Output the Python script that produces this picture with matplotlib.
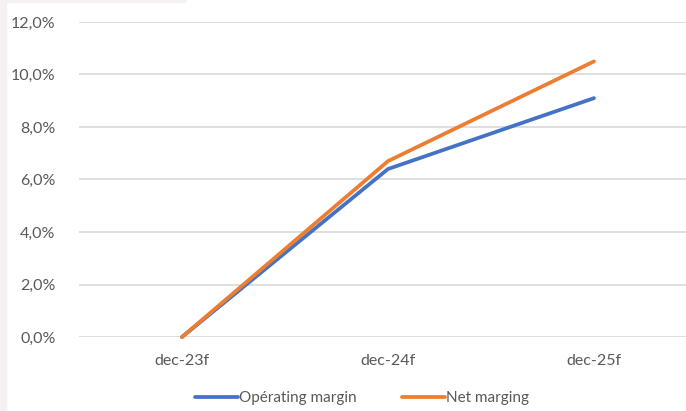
import numpy as np
import matplotlib.pyplot as plt
from matplotlib.patches import Rectangle

categories = ['dec-23f', 'dec-24f', 'dec-25f']
operating_margin = [0.0, 6.4, 9.1]
net_marging = [0.0, 6.7, 10.5]
yticks = [0, 2, 4, 6, 8, 10, 12]
ytick_labels = ['0,0%', '2,0%', '4,0%', '6,0%', '8,0%', '10,0%', '12,0%']

plt.rcParams['font.family'] = ['Lato', 'DejaVu Sans']

fig = plt.figure(figsize=(6.86, 4.11), dpi=100)
# light pink strips on the left and top edges
fig.patches.append(Rectangle((0, 0), 6/686, 1, transform=fig.transFigure,
                             color='#f6f1f1', zorder=0))
fig.patches.append(Rectangle((0, 1 - 2/411), 185/686, 2/411, transform=fig.transFigure,
                             color='#f6f1f1', zorder=0))

ax = fig.add_axes([79/686, 74/411, (686-79)/686, 315/411])
x = np.arange(len(categories))
ax.plot(x, operating_margin, color='#4472C4', lw=2.7, label='Opérating margin',
        solid_capstyle='round', zorder=3, clip_on=False)
ax.plot(x, net_marging, color='#ED7D31', lw=2.7, label='Net marging',
        solid_capstyle='round', zorder=4, clip_on=False)

ax.set_xlim(-0.5, -0.5 + 607/206)
ax.set_ylim(0, 12)
ax.set_yticks(yticks)
ax.set_yticklabels(ytick_labels)
ax.set_xticks(x)
ax.set_xticklabels(categories)
ax.grid(axis='y', color='#d9d9d9', lw=1.2)
ax.set_axisbelow(True)
for s in ax.spines.values():
    s.set_visible(False)
ax.tick_params(length=0, colors='#595959', labelsize=11.5)
ax.tick_params(axis='y', pad=17)
ax.tick_params(axis='x', pad=12)

leg = fig.legend(loc='center', bbox_to_anchor=(362/686, 1 - 398/411), ncol=2,
                 frameon=False, fontsize=11, handlelength=2.8, handletextpad=0.05,
                 columnspacing=3.0, labelcolor='#595959')

fig.savefig('out.png', dpi=100)
